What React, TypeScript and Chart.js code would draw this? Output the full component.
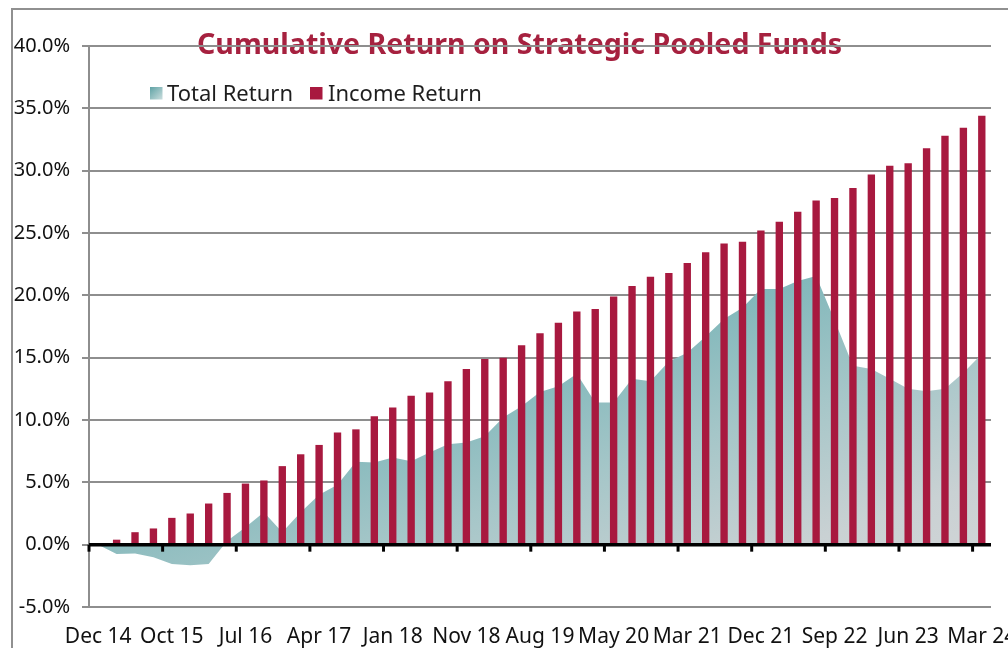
import React, { useEffect, useRef } from "react";
import { Chart, registerables } from "chart.js";

Chart.register(...registerables);

// Axis tick labels (one every LABEL_EVERY periods)
const TICK_LABELS = [
  "Dec 14", "Oct 15", "Jul 16", "Apr 17", "Jan 18", "Nov 18", "Aug 19",
  "May 20", "Mar 21", "Dec 21", "Sep 22", "Jun 23", "Mar 24",
];
const LABEL_EVERY = 4;

// Cumulative income return (%), bars
const INCOME_RETURN = [
  0.0, 0.4, 1.0, 1.3, 2.15, 2.5, 3.3, 4.15, 4.9, 5.15,
  6.3, 7.25, 8.0, 9.0, 9.25, 10.3, 11.0, 11.95, 12.2, 13.1,
  14.1, 14.9, 15.0, 16.0, 16.95, 17.8, 18.7, 18.9, 19.9, 20.75,
  21.5, 21.8, 22.6, 23.45, 24.15, 24.3, 25.2, 25.9, 26.7, 27.6,
  27.8, 28.6, 29.7, 30.4, 30.6, 31.8, 32.8, 33.45, 34.4,
];

// Cumulative total return (%), area
const TOTAL_RETURN = [
  0.0, -0.75, -0.7, -1.0, -1.55, -1.65, -1.55, 0.3, 1.4, 2.6,
  1.0, 2.6, 4.0, 4.8, 6.65, 6.6, 7.0, 6.7, 7.4, 8.05,
  8.2, 8.7, 10.2, 11.1, 12.25, 12.7, 13.7, 11.4, 11.4, 13.3,
  13.1, 14.7, 15.4, 16.7, 18.1, 19.0, 20.5, 20.5, 21.15, 21.55,
  18.0, 14.35, 14.1, 13.3, 12.5, 12.3, 12.5, 13.8, 15.3,
];

const CATEGORIES = INCOME_RETURN.map((_, i) =>
  i % LABEL_EVERY === 0 ? TICK_LABELS[i / LABEL_EVERY] : ""
);

const TITLE = "Cumulative Return on Strategic Pooled Funds";
const SERIES_NAMES = ["Total Return", "Income Return"];

const CRIMSON = "#A8193F";
const FONT = "'Noto Sans', 'DejaVu Sans', sans-serif";

const overlayPlugin = {
  id: "overlay",
  beforeDraw(chart: any) {
    const { ctx } = chart;
    ctx.save();
    // Title
    ctx.font = `bold 28px ${FONT}`;
    const w = ctx.measureText(TITLE).width;
    const targetW = 645;
    const sx = targetW / w;
    ctx.fillStyle = "#A6213F";
    ctx.textBaseline = "alphabetic";
    ctx.textAlign = "left";
    ctx.translate(519.5 - targetW / 2, 54);
    ctx.scale(sx, 1);
    ctx.fillText(TITLE, 0, 0);
    ctx.restore();

    // Legend
    ctx.save();
    ctx.font = `22px ${FONT}`;
    ctx.textBaseline = "alphabetic";
    const g = ctx.createLinearGradient(150, 87, 163, 100);
    g.addColorStop(0, "#5FA2A5");
    g.addColorStop(1, "#CFE0E0");
    ctx.fillStyle = g;
    ctx.fillRect(150, 87, 12.5, 12.5);
    ctx.fillStyle = "#1e1e1e";
    ctx.fillText(SERIES_NAMES[0], 167, 101);
    ctx.fillStyle = CRIMSON;
    ctx.fillRect(310, 87, 12.5, 12.5);
    ctx.fillStyle = "#1e1e1e";
    ctx.fillText(SERIES_NAMES[1], 328, 101);
    ctx.restore();
  },
  afterDatasetsDraw(chart: any) {
    const { ctx, chartArea, scales } = chart;
    const x = scales.x;
    const y = scales.y;
    const y0 = y.getPixelForValue(0);
    ctx.save();
    ctx.strokeStyle = "#000";
    ctx.lineWidth = 3.5;
    ctx.beginPath();
    ctx.moveTo(chartArea.left, y0);
    ctx.lineTo(chartArea.right, y0);
    ctx.stroke();
    const half = (x.getPixelForValue(1) - x.getPixelForValue(0)) / 2;
    ctx.lineWidth = 3;
    for (let i = 0; i < CATEGORIES.length; i += LABEL_EVERY) {
      const px = x.getPixelForValue(i) - half;
      ctx.beginPath();
      ctx.moveTo(px, y0);
      ctx.lineTo(px, y0 + 7);
      ctx.stroke();
    }
    ctx.restore();
  },
};

function areaGradient(c: any) {
  const chart = c.chart;
  const area = chart.chartArea;
  if (!area) return "rgba(0,0,0,0)";
  const y = chart.scales.y;
  const top = y.getPixelForValue(22);
  const bottom = y.getPixelForValue(-2);
  const W = area.right - area.left;
  const H = bottom - top;
  const k = 2 / (1 / (W * W) + 1 / (H * H));
  const g = chart.ctx.createLinearGradient(area.left, top, area.left + k / W, top + k / H);
  g.addColorStop(0, "#72AEB1");
  g.addColorStop(0.4, "#80B7BA");
  g.addColorStop(0.62, "#A5C6C8");
  g.addColorStop(0.85, "#C9D1D3");
  g.addColorStop(1, "#D2D5D7");
  return g;
}

export default function App() {
  const canvasRef = useRef<HTMLCanvasElement | null>(null);

  useEffect(() => {
    if (!canvasRef.current) return;
    const chart = new Chart(canvasRef.current, {
      type: "bar",
      data: {
        labels: CATEGORIES,
        datasets: [
          {
            type: "line",
            label: SERIES_NAMES[0],
            data: TOTAL_RETURN,
            fill: "origin",
            backgroundColor: areaGradient,
            borderWidth: 0,
            borderColor: "rgba(0,0,0,0)",
            pointRadius: 0,
            tension: 0,
            order: 2,
          } as any,
          {
            type: "bar",
            label: SERIES_NAMES[1],
            data: INCOME_RETURN,
            backgroundColor: CRIMSON,
            borderWidth: 0,
            barPercentage: 0.4,
            categoryPercentage: 1.0,
            order: 1,
          },
        ],
      },
      options: {
        animation: false,
        responsive: true,
        maintainAspectRatio: false,
        devicePixelRatio: 1,
        layout: { padding: { top: 46, right: 49, left: 0, bottom: 0 } },
        plugins: {
          legend: { display: false },
          title: { display: false },
          tooltip: { enabled: false },
        },
        scales: {
          x: {
            offset: true,
            grid: { display: false, offset: true },
            border: { display: false },
            ticks: {
              autoSkip: false,
              maxRotation: 0,
              minRotation: 0,
              padding: 9,
              color: "#111",
              font: { family: FONT, size: 21 },
            },
            afterFit: (s: any) => {
              s.height = 41;
            },
          },
          y: {
            min: -5,
            max: 40,
            ticks: {
              stepSize: 5,
              padding: 12,
              color: "#111",
              font: { family: FONT, size: 20 },
              callback: (v: any) => Number(v).toFixed(1) + "%",
            },
            grid: { color: "#8E8E8E", lineWidth: 2, tickLength: 7 },
            border: { display: true, color: "#8E8E8E", width: 2 },
            afterFit: (s: any) => {
              s.width = 89;
            },
          },
        },
      },
      plugins: [overlayPlugin],
    });
    return () => chart.destroy();
  }, []);

  return (
    <div
      style={{
        position: "fixed",
        left: 0,
        top: 0,
        width: 1008,
        height: 648,
        overflow: "hidden",
        background: "#fff",
      }}
    >
      <div
        style={{
          position: "absolute",
          left: 11,
          top: 8,
          width: 1100,
          height: 800,
          border: "2px solid #909090",
        }}
      />
      <div style={{ position: "absolute", left: 0, top: 0, width: 1040, height: 648 }}>
        <canvas ref={canvasRef} />
      </div>
    </div>
  );
}
